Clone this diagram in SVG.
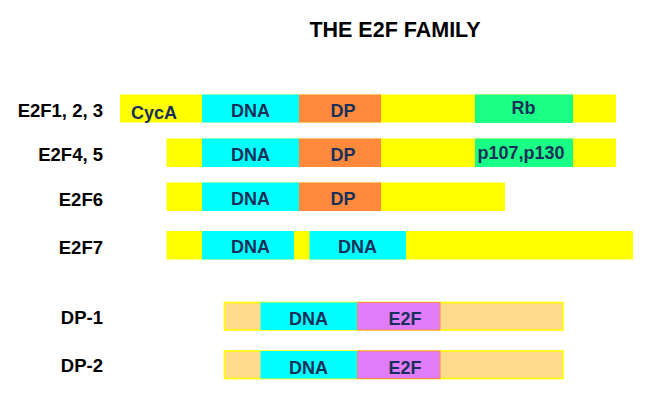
<svg xmlns="http://www.w3.org/2000/svg" width="648" height="412" viewBox="0 0 648 412">
<style>
text{font-family:"Liberation Sans",Arial,sans-serif;font-weight:bold}
.title{font-size:21.5px;fill:#000;text-anchor:middle}
.lbl{font-size:18.5px;fill:#000;text-anchor:end}
.dom{font-size:18px;fill:#17305a;text-anchor:middle}
.y{fill:#ffff00}
.c{fill:#00ffff}
.o{fill:#ff8a3d}
.g{fill:#1aff85}
.m{fill:#e17cf8;stroke:#ff8a50;stroke-width:1}
.lo{fill:#ffdb8b;stroke:#ffff00;stroke-width:1.6}
</style>
<rect width="648" height="412" fill="#fff"/>
<text class="title" x="395" y="37">THE E2F FAMILY</text>

<g id="e2f123">
<text class="lbl" x="103" y="117">E2F1, 2, 3</text>
<rect class="y" x="120" y="94.5" width="496" height="28"/>
<rect class="c" x="202" y="94.5" width="97" height="28"/>
<rect class="o" x="299" y="94.5" width="82" height="28"/>
<rect class="g" x="475" y="94.5" width="98" height="28.5"/>
<text class="dom" x="154" y="119" >CycA</text>
<text class="dom" x="250.5" y="117">DNA</text>
<text class="dom" x="343" y="117">DP</text>
<text class="dom" x="523.5" y="113.5">Rb</text>
</g>

<g id="e2f45">
<text class="lbl" x="103" y="161">E2F4, 5</text>
<rect class="y" x="166.5" y="138.5" width="449.5" height="28.5"/>
<rect class="c" x="202" y="138.5" width="97" height="28.5"/>
<rect class="o" x="299" y="138.5" width="82" height="28.5"/>
<rect class="g" x="475" y="138.5" width="98" height="28.5"/>
<text class="dom" x="250.5" y="161">DNA</text>
<text class="dom" x="343" y="161">DP</text>
<text class="dom" x="521" y="159">p107,p130</text>
</g>

<g id="e2f6">
<text class="lbl" x="103" y="206">E2F6</text>
<rect class="y" x="166.5" y="182.5" width="338.5" height="28.5"/>
<rect class="c" x="202" y="182.5" width="97" height="28.5"/>
<rect class="o" x="299" y="182.5" width="82" height="28.5"/>
<text class="dom" x="250.5" y="204.5">DNA</text>
<text class="dom" x="343" y="204.5">DP</text>
</g>

<g id="e2f7">
<text class="lbl" x="103" y="253.5">E2F7</text>
<rect class="y" x="166.5" y="231" width="466.5" height="28.5"/>
<rect class="c" x="202" y="231" width="92" height="28.5"/>
<rect class="c" x="309.5" y="231" width="96.5" height="28.5"/>
<text class="dom" x="250.5" y="253">DNA</text>
<text class="dom" x="357.5" y="253">DNA</text>
</g>

<g id="dp1">
<text class="lbl" x="103" y="324">DP-1</text>
<rect class="lo" x="224.5" y="302.5" width="338.5" height="27.5"/>
<rect class="c" x="260.5" y="302.5" width="97" height="27.5"/>
<rect class="m" x="357.5" y="302.5" width="82.5" height="27.5"/>
<text class="dom" x="308.5" y="325">DNA</text>
<text class="dom" x="405" y="325">E2F</text>
</g>

<g id="dp2">
<text class="lbl" x="103" y="372">DP-2</text>
<rect class="lo" x="224.5" y="351" width="338.5" height="27.5"/>
<rect class="c" x="260.5" y="351" width="97" height="27.5"/>
<rect class="m" x="357.5" y="351" width="82.5" height="27.5"/>
<text class="dom" x="308.5" y="373.5">DNA</text>
<text class="dom" x="405" y="373.5">E2F</text>
</g>

<g id="connectors"></g>
</svg>
